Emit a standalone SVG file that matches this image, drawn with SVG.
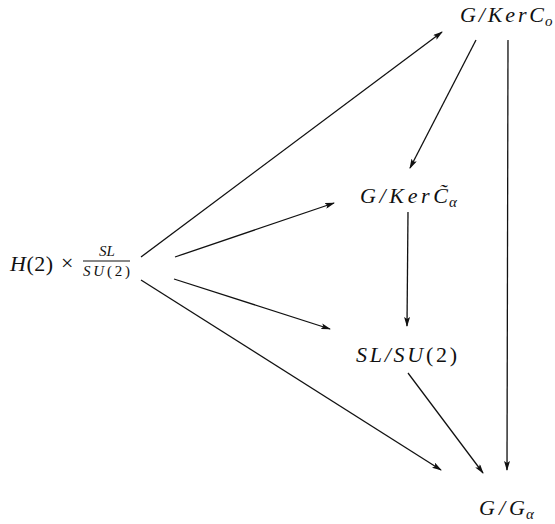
<svg xmlns="http://www.w3.org/2000/svg" width="555" height="524" viewBox="0 0 555 524">
<defs>
<style>
.m{font-family:"Liberation Serif","DejaVu Serif",serif;font-style:italic;font-size:22px;fill:#111}
.u{font-style:normal}
.s{font-size:15px}
.c line{stroke:#111;stroke-width:1.3;fill:none}
</style>
<marker id="ah" markerUnits="userSpaceOnUse" markerWidth="10" markerHeight="6" refX="9" refY="3" orient="auto">
<path d="M0,0 L10,3 L0,6 L2,3 z" fill="#111"/>
</marker>
</defs>
<rect width="555" height="524" fill="#fff"/>
<g id="src">
<text class="m" x="10" y="271" textLength="43" lengthAdjust="spacing">H<tspan class="u">(2)</tspan></text>
<text class="m u" x="61" y="270" font-size="19">×</text>
<text class="m s" x="107" y="256" text-anchor="middle">SL</text>
<line x1="83" y1="261" x2="130" y2="261" stroke="#111" stroke-width="1.1"/>
<text class="m s" x="83" y="276" textLength="47" lengthAdjust="spacing">SU<tspan class="u">(2)</tspan></text>
</g>
<g id="kerC">
<text class="m" x="460" y="22" textLength="84" lengthAdjust="spacing">G/KerC</text>
<text class="m s" x="545" y="26">o</text>
</g>
<g id="kerCt">
<text class="m" x="360" y="203" textLength="88" lengthAdjust="spacing">G/KerC̃</text>
<text class="m s" x="449" y="207">α</text>
</g>
<g id="slsu">
<text class="m" x="356" y="362" textLength="101" lengthAdjust="spacing">SL/SU<tspan class="u">(2)</tspan></text>
</g>
<g id="gga">
<text class="m" x="479" y="515" textLength="46" lengthAdjust="spacing">G/G</text>
<text class="m s" x="526" y="519">α</text>
</g>
<g id="connectors" class="c">
<line x1="141" y1="257" x2="442" y2="32" marker-end="url(#ah)"/>
<line x1="175" y1="257" x2="334" y2="203" marker-end="url(#ah)"/>
<line x1="174" y1="279" x2="330" y2="329" marker-end="url(#ah)"/>
<line x1="141" y1="280" x2="441" y2="470" marker-end="url(#ah)"/>
<line x1="508" y1="40" x2="507" y2="470" marker-end="url(#ah)"/>
<line x1="476" y1="40" x2="410" y2="168" marker-end="url(#ah)"/>
<line x1="408" y1="212" x2="407" y2="326" marker-end="url(#ah)"/>
<line x1="408" y1="373" x2="483" y2="473" marker-end="url(#ah)"/>
</g>
</svg>
